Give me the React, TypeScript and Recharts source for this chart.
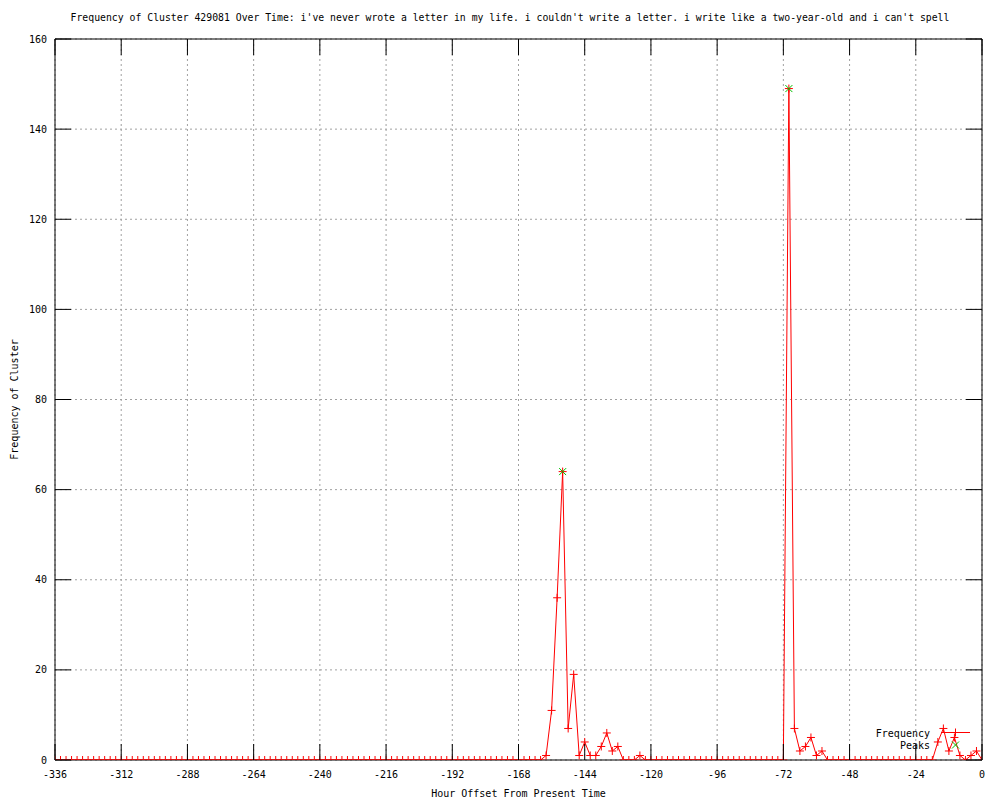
import React from 'react';
import { ComposedChart, Line, Scatter, XAxis, YAxis, CartesianGrid } from 'recharts';

// hour offsets, one sample every 2 hours
const hours = Array.from({ length: 169 }, (_, i) => -336 + 2 * i);

// frequency per sample (rows of 12 = 24 hours, starting at -336)
const frequency = [
  0, 0, 0, 0, 0, 0, 0, 0, 0, 0, 0, 0,
  0, 0, 0, 0, 0, 0, 0, 0, 0, 0, 0, 0,
  0, 0, 0, 0, 0, 0, 0, 0, 0, 0, 0, 0,
  0, 0, 0, 0, 0, 0, 0, 0, 0, 0, 0, 0,
  0, 0, 0, 0, 0, 0, 0, 0, 0, 0, 0, 0,
  0, 0, 0, 0, 0, 0, 0, 0, 0, 0, 0, 0,
  0, 0, 0, 0, 0, 0, 0, 0, 0, 0, 0, 0,
  0, 0, 0, 0, 0, 1, 11, 36, 64, 7, 19, 1,
  4, 1, 1, 3, 6, 2, 3, 0, 0, 0, 1, 0,
  0, 0, 0, 0, 0, 0, 0, 0, 0, 0, 0, 0,
  0, 0, 0, 0, 0, 0, 0, 0, 0, 0, 0, 0,
  0, 149, 7, 2, 3, 5, 1, 2, 0, 0, 0, 0,
  0, 0, 0, 0, 0, 0, 0, 0, 0, 0, 0, 0,
  0, 0, 0, 0, 4, 7, 2, 5, 1, 0, 1, 2,
  0,
];

const peakHours = [-152, -70];
const peakValues = [64, 149];

const xTicks = [-336, -312, -288, -264, -240, -216, -192, -168, -144, -120, -96, -72, -48, -24, 0];
const yTicks = [0, 20, 40, 60, 80, 100, 120, 140, 160];

const freqData = hours.map((h, i) => ({ hour: h, freq: frequency[i] }));
const peakData = peakHours.map((h, i) => ({ hour: h, peak: peakValues[i] }));

const FONT = '"DejaVu Sans Mono", "Liberation Mono", monospace';
const RED = '#ff0000';
const GREEN = '#00c000';
const TICK = 16;

const XTickBottom = ({ x, y, payload }: any) => (
  <g>
    <line x1={x} x2={x} y1={y} y2={y - TICK} stroke="#000" />
    <text x={x} y={y + 17.5} textAnchor="middle" fontFamily={FONT} fontSize={10} fill="#000">
      {payload.value}
    </text>
  </g>
);

const XTickTop = ({ x, y }: any) => <line x1={x} x2={x} y1={y} y2={y + TICK} stroke="#000" />;

const YTickLeft = ({ x, y, payload }: any) => (
  <g>
    <line x1={x} x2={x + TICK} y1={y} y2={y} stroke="#000" />
    <text x={x - 8} y={y + 3.5} textAnchor="end" fontFamily={FONT} fontSize={10} fill="#000">
      {payload.value}
    </text>
  </g>
);

const YTickRight = ({ x, y }: any) => <line x1={x} x2={x - TICK} y1={y} y2={y} stroke="#000" />;

const renderPlus = (props: any) => {
  const { cx, cy, index } = props;
  if (cx == null || cy == null) return <g key={`p-${index}`} />;
  return (
    <path
      key={`p-${index}`}
      d={`M${cx - 4},${cy}H${cx + 4}M${cx},${cy - 4}V${cy + 4}`}
      stroke={RED}
      strokeWidth={1}
      fill="none"
    />
  );
};

const renderCross = (props: any) => {
  const { cx, cy } = props;
  return (
    <path
      d={`M${cx - 3.5},${cy - 3.5}L${cx + 3.5},${cy + 3.5}M${cx - 3.5},${cy + 3.5}L${cx + 3.5},${cy - 3.5}`}
      stroke={GREEN}
      strokeWidth={1}
      fill="none"
    />
  );
};

export default function App() {
  return (
    <div style={{ position: 'absolute', left: 0, top: 0, width: 1000, height: 800, background: '#fff' }}>
      <ComposedChart width={1000} height={800} data={freqData} margin={{ top: 0, right: 0, bottom: 0, left: 0 }}>
        <CartesianGrid
          xAxisId="bottom"
          yAxisId="left"
          stroke="#a0a0a0"
          strokeDasharray="2 3"
          horizontal
          vertical
        />
        <XAxis
          xAxisId="bottom"
          dataKey="hour"
          type="number"
          domain={[-336, 0]}
          ticks={xTicks}
          interval={0}
          height={40}
          tickSize={0}
          tickMargin={0}
          tickLine={false}
          axisLine={{ stroke: '#000' }}
          tick={<XTickBottom />}
          allowDataOverflow
        />
        <XAxis
          xAxisId="top"
          orientation="top"
          dataKey="hour"
          type="number"
          domain={[-336, 0]}
          ticks={xTicks}
          interval={0}
          height={39}
          tickSize={0}
          tickMargin={0}
          tickLine={false}
          axisLine={{ stroke: '#000' }}
          tick={<XTickTop />}
          allowDataOverflow
        />
        <YAxis
          yAxisId="left"
          type="number"
          domain={[0, 160]}
          ticks={yTicks}
          interval={0}
          width={55}
          tickSize={0}
          tickMargin={0}
          tickLine={false}
          axisLine={{ stroke: '#000' }}
          tick={<YTickLeft />}
          allowDataOverflow
        />
        <YAxis
          yAxisId="right"
          orientation="right"
          type="number"
          domain={[0, 160]}
          ticks={yTicks}
          interval={0}
          width={18}
          tickSize={0}
          tickMargin={0}
          tickLine={false}
          axisLine={{ stroke: '#000' }}
          tick={<YTickRight />}
          allowDataOverflow
        />
        <Line
          xAxisId="bottom"
          yAxisId="left"
          type="linear"
          dataKey="freq"
          stroke={RED}
          strokeWidth={1}
          dot={renderPlus}
          activeDot={false}
          isAnimationActive={false}
        />
        <Scatter
          xAxisId="bottom"
          yAxisId="left"
          data={peakData}
          dataKey="peak"
          shape={renderCross}
          isAnimationActive={false}
        />
      </ComposedChart>
      <svg
        width={1000}
        height={800}
        style={{ position: 'absolute', left: 0, top: 0, pointerEvents: 'none' }}
        fontFamily={FONT}
        fontSize={10}
      >
        <text x={510} y={21} textAnchor="middle" fontSize={9.8} fill="#000">
          Frequency of Cluster 429081 Over Time: i've never wrote a letter in my life. i couldn't write a letter. i write like a two-year-old and i can't spell
        </text>
        <text x={518.5} y={797} textAnchor="middle" fill="#000">
          Hour Offset From Present Time
        </text>
        <text x={14} y={399.5} dy={3.5} textAnchor="middle" fill="#000" transform="rotate(-90 14 399.5)">
          Frequency of Cluster
        </text>
        <text x={930} y={736.5} textAnchor="end" fill="#000">Frequency</text>
        <text x={930} y={749} textAnchor="end" fill="#000">Peaks</text>
        <line x1={941} x2={970} y1={732.5} y2={732.5} stroke={RED} />
        <path d="M951.5,732.5H959.5M955.5,728.5V736.5" stroke={RED} fill="none" />
        <path d="M952,741.5L959,748.5M952,748.5L959,741.5" stroke={GREEN} fill="none" />
      </svg>
    </div>
  );
}
